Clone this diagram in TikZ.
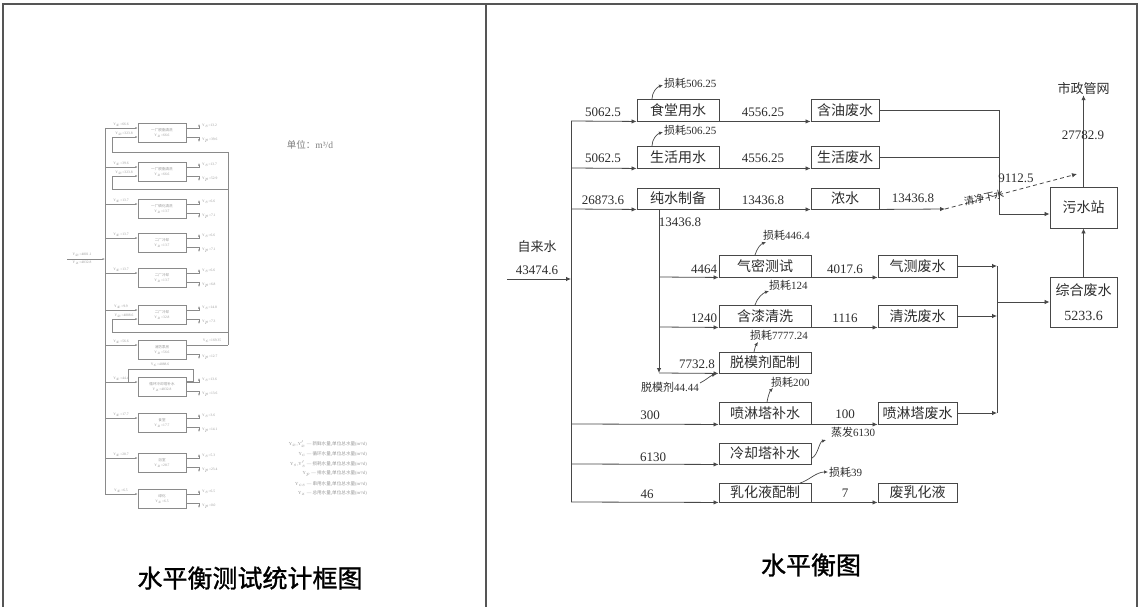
\documentclass[tikz,border=0pt]{standalone}
\usepackage{fontspec}
\setmainfont{Liberation Serif}
\newfontfamily\cjk{Noto Sans CJK SC}
\newfontfamily\cjkb{Noto Sans CJK SC}[FakeBold=1.2]
\usetikzlibrary{arrows.meta}
\definecolor{lc}{HTML}{484848}
\definecolor{tc}{HTML}{2E2E2E}
\definecolor{lg}{HTML}{8A8A8A}
\definecolor{tg}{HTML}{9A9A9A}
\definecolor{bc}{HTML}{555555}
\tikzset{
  tframe/.style={draw=bc, line width=1.1pt},
  box/.style={draw=lc, line width=0.9pt, inner sep=0pt, text=tc, font=\cjk\fontsize{14}{14}\selectfont},
  ln/.style={draw=lc, line width=0.8pt},
  arr/.style={ln, -{Latex[length=5pt,width=4.5pt]}},
  sarr/.style={draw=lc, line width=0.7pt, -{Latex[length=4pt,width=3.5pt]}},
  dasharr/.style={arr, dash pattern=on 4pt off 3pt},
  num/.style={inner sep=0pt, text=tc, font=\fontsize{13}{13}\selectfont},
  losstxt/.style={inner sep=0pt, text=tc, font=\fontsize{11}{11}\selectfont, anchor=west},
  labtxt/.style={inner sep=0pt, text=tc, font=\cjk\fontsize{13}{13}\selectfont},
  captxt/.style={inner sep=0pt, text=black, font=\cjkb\fontsize{25}{25}\selectfont},
  lbox/.style={draw=lg, line width=0.5pt, inner sep=0pt, minimum width=48pt, minimum height=19pt, text=tg, font=\fontsize{3.6}{5}\selectfont, align=center},
  lln/.style={draw=lg, line width=0.5pt},
  larr/.style={lln, -{Latex[length=2.5pt,width=2pt]}},
  ltx/.style={inner sep=0pt, text=tg, font=\fontsize{3.6}{3.6}\selectfont},
  legtxt/.style={inner sep=0pt, text=tg, font=\fontsize{4.6}{4.6}\selectfont, anchor=east},
}
\begin{document}
\begin{tikzpicture}[x=1pt,y=-1pt]
\useasboundingbox (0,0) rectangle (1140,607);
\fill[white] (0,0) rectangle (1140,607);
% table frame
\draw[tframe] (3,607) -- (3,4) -- (1137,4) -- (1137,607);
\draw[tframe] (486,4) -- (486,607);
% captions
\node[captxt] (cap1) at (250,578) {水平衡测试统计框图};
\node[captxt] (cap2) at (811,565) {水平衡图};

% ================= LEFT (small statistics diagram) =================
\draw[lln] (105,128) -- (105,494);
\coordinate (lin) at (67,259);
\coordinate (ltj) at (105,259);
\draw[larr] (lin) -- (ltj);
\node[ltx] (lm1) at (82,255) {Y$_x$=4801.1};
\node[ltx] (lm2) at (82,263) {Y$_z$=4832.8};
\foreach \i/\yt/\nm/\yv/\il in {
  1/123/一厂脱脂清洗/66.6/66.6,
  2/162/一厂脱脂清洗/66.6/39.6,
  3/199/一厂磷化清洗/13.7/13.7,
  4/233/二厂冷却/13.7/13.7,
  5/268/二厂冷却/13.7/13.7,
  6/305/二厂冷却/32.8/9.9,
  7/340/消防泵房/56.6/56.6,
  8/377/循环冷却塔补水/4832.8/44.4,
  9/413/食堂/17.7/17.7,
  10/453/浴室/28.7/28.7,
  11/489/绿化/6.5/6.5}{
  \node[lbox] (lb\i) at (162,{\yt+9.5}) {{\cjk \nm}\\Y$_z$=\yv};
  \coordinate (li\i) at (105,{\yt+5});
  \draw[larr] (li\i) -- (lb\i.west |- li\i);
  \node[ltx] (lt\i) at (121,{\yt+2}) {Y$_x$=\il};
  \coordinate (lo\i) at (199,{\yt+14});
  \draw[larr] (lb\i.east |- lo\i) -- (lo\i) -- ++(0,5);
}
\foreach \i/\yt/\ob in {1/123/39.6,2/162/52.9,3/199/7.1,4/233/7.1,5/268/6.8,6/305/7.3,7/340/12.7,8/377/13.6,9/413/14.1,10/453/23.4,11/489/0.0}{
  \node[ltx, anchor=west] (lp\i) at (202,{\yt+17}) {Y$_p$=\ob};
}
\foreach \i/\yt/\oa in {1/123/13.2,2/162/13.7,3/199/6.6,4/233/6.6,5/268/6.6,6/305/14.8,8/377/13.6,9/413/3.6,10/453/5.3,11/489/6.5}{
  \coordinate (lu\i) at (199,{\yt+5});
  \draw[larr] (lb\i.east |- lu\i) -- (lu\i) -- ++(0,-4);
  \node[ltx, anchor=west] (lq\i) at (202,{\yt+3}) {Y$_s$=\oa};
}
% collector and loops
\coordinate (lc1) at (228,152);
\coordinate (lc2) at (228,189);
\coordinate (lc3) at (228,332);
\coordinate (lc4) at (228,345);
\draw[lln] (lc1) -- (lc4);
\draw[lln] (lb7.east |- lc4) -- (lc4);
\node[ltx] (lcy) at (212,341) {Y$_c$=169.35};
\draw[larr] (lc1) -- (112,152) -- (112,137) -- (lb1.west |- 0,137);
\draw[larr] (lc2) -- (112,189) -- (112,176) -- (lb2.west |- 0,176);
\draw[larr] (lc3) -- (112,332) -- (112,319) -- (lb6.west |- 0,319);
\node[ltx] (lr1) at (124,134) {Y$_x$=323.8};
\node[ltx] (lr2) at (124,173) {Y$_x$=323.8};
\node[ltx] (lr6) at (124,316) {Y$_x$=4888.6};
\draw[lln] (lb8.east |- 0,381) -- (193,381) -- (193,369) -- (128,369) -- (128,382);
\node[ltx] (lr8) at (160,365) {Y$_c$=4888.6};
% unit and legend
\node[inner sep=0pt, text=gray, font=\fontsize{9.5}{9.5}\selectfont] (unit) at (310,145) {{\cjk 单位：}m³/d};
\node[legtxt] (lg1) at (367,444) {Y$_x$,Y$_x'$ — {\cjk 新鲜水量,单位总水量}(m³/d)};
\node[legtxt] (lg2) at (367,454) {Y$_c$ — {\cjk 循环水量,单位总水量}(m³/d)};
\node[legtxt] (lg3) at (367,464) {Y$_s$,Y$_s'$ — {\cjk 损耗水量,单位总水量}(m³/d)};
\node[legtxt] (lg4) at (367,474) {Y$_p$ — {\cjk 排水量,单位总水量}(m³/d)};
\node[legtxt] (lg5) at (367,484) {Y$_{cs}$ — {\cjk 串用水量,单位总水量}(m³/d)};
\node[legtxt] (lg6) at (367,493) {Y$_z$ — {\cjk 总用水量,单位总水量}(m³/d)};

% ================= RIGHT (water balance diagram) =================
% boxes
\node[box, minimum width=82pt, minimum height=22pt] (st) at (678,110) {食堂用水};
\node[box, minimum width=82pt, minimum height=22pt] (shy) at (678,157) {生活用水};
\node[box, minimum width=82pt, minimum height=21pt] (cs) at (678,198.5) {纯水制备};
\node[box, minimum width=68pt, minimum height=22pt] (hy) at (845,110) {含油废水};
\node[box, minimum width=68pt, minimum height=22pt] (shf) at (845,157) {生活废水};
\node[box, minimum width=68pt, minimum height=21pt] (ns) at (845,198.5) {浓水};
\node[box, minimum width=67pt, minimum height=41pt] (ws) at (1083.5,207.5) {污水站};
\node[box, minimum width=67pt, minimum height=50pt, align=center, font=\cjk\fontsize{14}{25}\selectfont] (zh) at (1083.5,302) {综合废水\\{\rmfamily 5233.6}};
\node[box, minimum width=92pt, minimum height=22pt] (qm) at (765,266) {气密测试};
\node[box, minimum width=92pt, minimum height=22pt] (hq) at (765,316) {含漆清洗};
\node[box, minimum width=92pt, minimum height=21pt] (tm) at (765,362.5) {脱模剂配制};
\node[box, minimum width=92pt, minimum height=22pt] (pl) at (765,413) {喷淋塔补水};
\node[box, minimum width=92pt, minimum height=21pt] (lq) at (765,453.5) {冷却塔补水};
\node[box, minimum width=92pt, minimum height=19pt] (rh) at (765,492.5) {乳化液配制};
\node[box, minimum width=79pt, minimum height=22pt] (qc) at (917.5,266) {气测废水};
\node[box, minimum width=79pt, minimum height=22pt] (qx) at (917.5,316) {清洗废水};
\node[box, minimum width=79pt, minimum height=22pt] (pf) at (917.5,413) {喷淋塔废水};
\node[box, minimum width=79pt, minimum height=19pt] (fr) at (917.5,492.5) {废乳化液};
\node[labtxt] (sz) at (1083.5,89) {市政管网};
\node[labtxt] (zls) at (537,247) {自来水};

% coordinates
\coordinate (in) at (507,279);
\coordinate (tj) at (571,279);
\coordinate (t1) at (571,121);
\coordinate (t2) at (571,168);
\coordinate (t3) at (571,209);
\coordinate (t4) at (571,424);
\coordinate (t5) at (571,464);
\coordinate (t6) at (571,502);
\coordinate (v0) at (659,209);
\coordinate (v1) at (659,277);
\coordinate (v2) at (659,327);
\coordinate (v3) at (659,373);
\coordinate (c1) at (999,110);
\coordinate (c2) at (999,157);
\coordinate (c3) at (999,214);
\coordinate (d0) at (945,209);
\coordinate (d1) at (1077,174);
\coordinate (k1) at (997,266);
\coordinate (k2) at (997,316);
\coordinate (kz) at (997,302);
\coordinate (k3) at (997,413);

% connectors
\draw[ln] (t1) -- (t6);
\draw[arr] (in) -- (tj);
\draw[arr] (t1) -- (st.south west);
\draw[arr] (t2) -- (shy.south west);
\draw[arr] (t3) -- (cs.south west);
\draw[arr] (st.south east) -- (hy.south west);
\draw[arr] (shy.south east) -- (shf.south west);
\draw[arr] (cs.south east) -- (ns.south west);
\draw[arr] (ns.south east) -- (d0);
\draw[dasharr] (d0) -- (d1);
\draw[ln] (hy.east) -- (c1) -- (c3);
\draw[ln] (shf.east) -- (c2);
\draw[arr] (c3) -- (c3 -| ws.west);
\draw[arr] (v0) -- (v3);
\draw[arr] (v3) -- (tm.south west);
\draw[arr] (v1) -- (qm.south west);
\draw[arr] (v2) -- (hq.south west);
\draw[arr] (qm.south east) -- (qc.south west);
\draw[arr] (hq.south east) -- (qx.south west);
\draw[arr] (t4) -- (pl.south west);
\draw[arr] (pl.south east) -- (pf.south west);
\draw[arr] (t5) -- (lq.south west);
\draw[arr] (t6) -- (rh.south west);
\draw[arr] (rh.south east) -- (fr.south west);
\draw[ln] (k1) -- (k3);
\draw[arr] (qc.east) -- (k1);
\draw[arr] (qx.east) -- (k2);
\draw[arr] (pf.east) -- (k3);
\draw[arr] (kz) -- (zh.west);
\draw[arr] (zh.north) -- (ws.south);
\draw[arr] (ws.north) -- (sz.south);

% loss arrows
\draw[sarr] (652,99) .. controls (652,92) and (657,87) .. (663,85);
\draw[sarr] (652,146) .. controls (652,139) and (657,134) .. (663,132);
\draw[sarr] (755,255) .. controls (757,248) and (761,244) .. (766,242);
\draw[sarr] (755,305) .. controls (757,298) and (763,293) .. (769,291);
\draw[sarr] (754,352) .. controls (755,347) and (756,345) .. (758,342);
\draw[sarr] (767,402) .. controls (768,396) and (770,391) .. (773,388);
\draw[sarr] (812,458) .. controls (818,455) and (819,442) .. (826,440);
\draw[sarr] (800,483) .. controls (808,481) and (816,472) .. (828,472);
\draw[sarr] (700,383) .. controls (706,380) and (710,376) .. (716,374);

% texts
\node[losstxt] (ls1) at (664,83) {{\cjk 损耗}506.25};
\node[losstxt] (ls2) at (664,130) {{\cjk 损耗}506.25};
\node[losstxt] (ls3) at (763,235) {{\cjk 损耗}446.4};
\node[losstxt] (ls4) at (769,285) {{\cjk 损耗}124};
\node[losstxt] (ls5) at (750,335) {{\cjk 损耗}7777.24};
\node[losstxt] (ls6) at (771,382) {{\cjk 损耗}200};
\node[losstxt] (ls7) at (831,432) {{\cjk 蒸发}6130};
\node[losstxt] (ls8) at (829,472) {{\cjk 损耗}39};
\node[losstxt, anchor=center] (ls9) at (670,387) {{\cjk 脱模剂}44.44};

\node[num] (n0) at (537,270) {43474.6};
\node[num] (n1) at (603,112) {5062.5};
\node[num] (n2) at (603,158) {5062.5};
\node[num] (n3) at (603,200) {26873.6};
\node[num] (n4) at (763,112) {4556.25};
\node[num] (n5) at (763,158) {4556.25};
\node[num] (n6) at (763,200) {13436.8};
\node[num] (n7) at (680,222) {13436.8};
\node[num] (n8) at (913,198) {13436.8};
\node[num] (n9) at (1016,178) {9112.5};
\node[num] (n10) at (1083,135) {27782.9};
\node[inner sep=0pt, text=tc, font=\cjk\fontsize{10}{10}\selectfont, rotate=12] (qj) at (984,198) {清净下水};
\node[num] (n11) at (704,269) {4464};
\node[num] (n12) at (704,318) {1240};
\node[num] (n13) at (697,364) {7732.8};
\node[num] (n14) at (845,269) {4017.6};
\node[num] (n15) at (845,318) {1116};
\node[num] (n16) at (845,414) {100};
\node[num] (n17) at (845,493) {7};
\node[num] (n18) at (650,415) {300};
\node[num] (n19) at (653,457) {6130};
\node[num] (n20) at (647,494) {46};
\end{tikzpicture}
\end{document}
